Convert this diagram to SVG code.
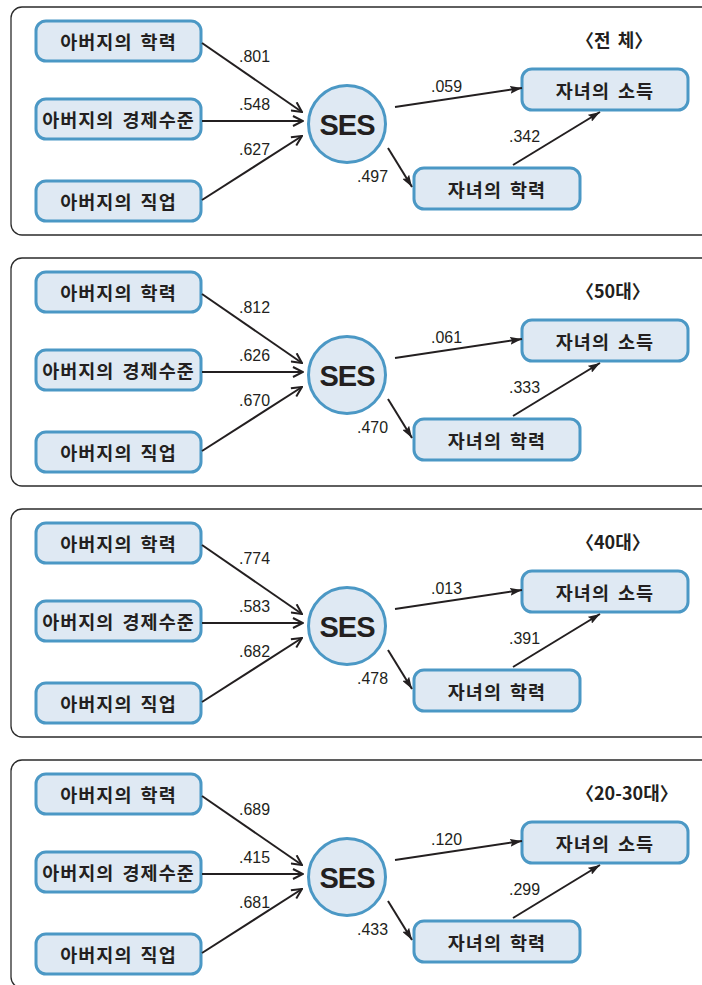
<svg xmlns="http://www.w3.org/2000/svg" width="702" height="985" viewBox="0 0 702 985">
<defs>
<style>
.panel{fill:none;stroke:#2b2b2b;stroke-width:1.3}
.box{fill:#dfe9f3;stroke:#4b98c5;stroke-width:3}
.nt{font-family:"Noto Sans CJK KR","Liberation Sans",sans-serif;font-weight:bold;font-size:18.5px;fill:#231f20;text-anchor:middle;dominant-baseline:central;letter-spacing:1px;word-spacing:3px}
.ses{font-family:"Liberation Sans",Arial,sans-serif;font-weight:bold;font-size:29px;fill:#231f20;text-anchor:middle;dominant-baseline:central;letter-spacing:-1px}
.lbl{font-family:"Liberation Sans",Arial,sans-serif;font-size:17px;fill:#231f20}
.ttl{font-family:"Noto Sans CJK KR","Liberation Sans",sans-serif;font-weight:bold;font-size:18px;fill:#231f20;word-spacing:3px}
.ln{stroke:#231f20;stroke-width:2;fill:none}
</style>
<marker id="open" viewBox="0 0 12 12" refX="11" refY="6" markerWidth="12" markerHeight="12" markerUnits="userSpaceOnUse" orient="auto">
<path d="M1,1 L11,6 L1,11" fill="none" stroke="#231f20" stroke-width="2"/>
</marker>
<marker id="fill" viewBox="0 0 12 8" refX="12" refY="4" markerWidth="12" markerHeight="8" markerUnits="userSpaceOnUse" orient="auto">
<path d="M0,0 L12,4 L0,8 L2,4 Z" fill="#231f20"/>
</marker>
<g id="tpl">
<rect class="panel" x="11" y="7" width="720" height="228" rx="11"/>
<g id="n-edu"><rect class="box" x="36" y="21" width="165" height="40" rx="10"/><text class="nt" x="118.5" y="41">아버지의 학력</text></g>
<g id="n-eco"><rect class="box" x="36" y="99" width="165" height="40" rx="10"/><text class="nt" x="118.5" y="119">아버지의 경제수준</text></g>
<g id="n-job"><rect class="box" x="36" y="181" width="165" height="40" rx="10"/><text class="nt" x="118.5" y="201">아버지의 직업</text></g>
<g id="n-ses"><circle cx="347" cy="124" r="38.5" fill="#dfe9f3" stroke="#4b98c5" stroke-width="3"/><text class="ses" x="347" y="125">SES</text></g>
<g id="n-inc"><rect class="box" x="522" y="69" width="166" height="41" rx="10"/><text class="nt" x="605" y="89.5">자녀의 소득</text></g>
<g id="n-cedu"><rect class="box" x="414" y="168" width="166" height="41" rx="10"/><text class="nt" x="497" y="188.5">자녀의 학력</text></g>
<g id="connectors">
<line class="ln" x1="202" y1="43" x2="302" y2="112" marker-end="url(#open)"/>
<line class="ln" x1="202" y1="121" x2="303" y2="121" marker-end="url(#open)"/>
<line class="ln" x1="202" y1="200" x2="302" y2="136" marker-end="url(#open)"/>
<line class="ln" x1="395" y1="107" x2="522" y2="88" marker-end="url(#fill)"/>
<line class="ln" x1="388" y1="148" x2="412" y2="187" marker-end="url(#fill)"/>
<line class="ln" x1="513" y1="165" x2="600" y2="112" marker-end="url(#fill)"/>
</g>
</g>
</defs>
<rect width="702" height="985" fill="#ffffff"/>
<g id="panel1">
<use href="#tpl"/>
<g class="labels">
<text class="ttl" x="576" y="47">〈전 체〉</text>
<text class="lbl" x="239" y="62" textLength="31" lengthAdjust="spacingAndGlyphs">.801</text>
<text class="lbl" x="239" y="110" textLength="31" lengthAdjust="spacingAndGlyphs">.548</text>
<text class="lbl" x="239" y="155" textLength="31" lengthAdjust="spacingAndGlyphs">.627</text>
<text class="lbl" x="431" y="92" textLength="31" lengthAdjust="spacingAndGlyphs">.059</text>
<text class="lbl" x="509" y="142" textLength="31" lengthAdjust="spacingAndGlyphs">.342</text>
<text class="lbl" x="357" y="182" textLength="31" lengthAdjust="spacingAndGlyphs">.497</text>
</g>
</g>
<g id="panel2" transform="translate(0,251)">
<use href="#tpl"/>
<g class="labels">
<text class="ttl" x="576" y="47">〈50대〉</text>
<text class="lbl" x="239" y="62" textLength="31" lengthAdjust="spacingAndGlyphs">.812</text>
<text class="lbl" x="239" y="110" textLength="31" lengthAdjust="spacingAndGlyphs">.626</text>
<text class="lbl" x="239" y="155" textLength="31" lengthAdjust="spacingAndGlyphs">.670</text>
<text class="lbl" x="431" y="92" textLength="31" lengthAdjust="spacingAndGlyphs">.061</text>
<text class="lbl" x="509" y="142" textLength="31" lengthAdjust="spacingAndGlyphs">.333</text>
<text class="lbl" x="357" y="182" textLength="31" lengthAdjust="spacingAndGlyphs">.470</text>
</g>
</g>
<g id="panel3" transform="translate(0,502)">
<use href="#tpl"/>
<g class="labels">
<text class="ttl" x="576" y="47">〈40대〉</text>
<text class="lbl" x="239" y="62" textLength="31" lengthAdjust="spacingAndGlyphs">.774</text>
<text class="lbl" x="239" y="110" textLength="31" lengthAdjust="spacingAndGlyphs">.583</text>
<text class="lbl" x="239" y="155" textLength="31" lengthAdjust="spacingAndGlyphs">.682</text>
<text class="lbl" x="431" y="92" textLength="31" lengthAdjust="spacingAndGlyphs">.013</text>
<text class="lbl" x="509" y="142" textLength="31" lengthAdjust="spacingAndGlyphs">.391</text>
<text class="lbl" x="357" y="182" textLength="31" lengthAdjust="spacingAndGlyphs">.478</text>
</g>
</g>
<g id="panel4" transform="translate(0,753)">
<use href="#tpl"/>
<g class="labels">
<text class="ttl" x="576" y="47">〈20-30대〉</text>
<text class="lbl" x="239" y="62" textLength="31" lengthAdjust="spacingAndGlyphs">.689</text>
<text class="lbl" x="239" y="110" textLength="31" lengthAdjust="spacingAndGlyphs">.415</text>
<text class="lbl" x="239" y="155" textLength="31" lengthAdjust="spacingAndGlyphs">.681</text>
<text class="lbl" x="431" y="92" textLength="31" lengthAdjust="spacingAndGlyphs">.120</text>
<text class="lbl" x="509" y="142" textLength="31" lengthAdjust="spacingAndGlyphs">.299</text>
<text class="lbl" x="357" y="182" textLength="31" lengthAdjust="spacingAndGlyphs">.433</text>
</g>
</g>
</svg>
